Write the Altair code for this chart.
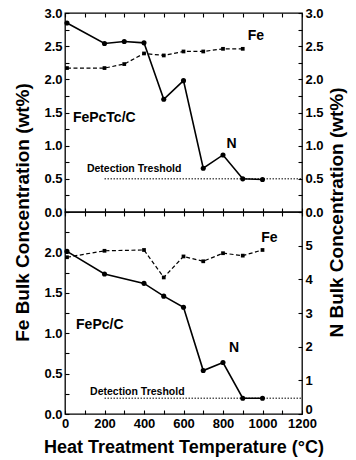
import altair as alt
import pandas as pd

# FePcTc/C catalyst: bulk Fe and N contents (wt%) vs. heat-treatment temperature (°C)
fepctc_fe_temp = [10, 200, 300, 400, 500, 600, 700, 800, 900]
fepctc_fe = [2.17, 2.17, 2.23, 2.39, 2.36, 2.42, 2.42, 2.46, 2.46]
fepctc_n_temp = [10, 200, 300, 400, 500, 600, 700, 800, 900, 1000]
fepctc_n = [2.85, 2.54, 2.57, 2.55, 1.70, 1.98, 0.66, 0.86, 0.50, 0.49]

# FePc/C catalyst
fepc_fe_temp = [10, 200, 400, 500, 600, 700, 800, 900, 1000]
fepc_fe = [1.94, 2.02, 2.03, 1.69, 1.95, 1.89, 1.99, 1.96, 2.03]
fepc_n_temp = [10, 200, 400, 500, 600, 700, 800, 900, 1000]
fepc_n = [4.83, 4.16, 3.88, 3.50, 3.17, 1.29, 1.53, 0.47, 0.47]

# N detection threshold (wt%) and the temperature range it is drawn over
threshold_fepctc = 0.5
threshold_fepc = 0.47
threshold_from, threshold_to = 200, 1200

# tick positions
x_ticks = [i * 100 for i in range(13)]
top_ticks = [i * 0.25 for i in range(13)]
bottom_fe_ticks = [i * 0.25 for i in range(11)]
bottom_n_ticks = [i * 0.5 for i in range(13)]

FONT = "Liberation Sans, Arial, sans-serif"
NARROW = "Liberation Sans Narrow, Liberation Sans, Arial, sans-serif"
TICK = 4
W = 237
H_TOP = 199
H_BOTTOM = 202


def x_axis(orient, labels=False, title=None):
    kw = dict(orient=orient, values=x_ticks, offset=-TICK, tickSize=TICK,
              domain=False, grid=False, labels=labels, title=title)
    if labels:
        kw.update(labelExpr="datum.value % 200 == 0 ? datum.label : ''", format="d",
                  labelPadding=3, labelFlush=False, labelOverlap=False)
    if title:
        kw.update(titleFont=FONT, titleFontSize=18, titleFontWeight="bold", titlePadding=8)
    return alt.Axis(**kw)


def y_axis(orient, values, test, fmt, title=None, title_x=0, title_y=0, lift_zero=False):
    kw = dict(orient=orient, values=values, offset=-TICK, tickSize=TICK, domain=False,
              grid=False, format=fmt, labelExpr=f"{test} ? datum.label : ''",
              labelPadding=3, labelOverlap=False, labelFlush=False, title=title)
    if lift_zero:
        # raise the zero label so it clears the x-axis labels below it
        kw["labelOffset"] = {"condition": {"test": "datum.value == 0", "value": -5},
                             "value": 0}
    if title:
        kw.update(titleAngle=270, titleX=title_x, titleY=title_y, titleAlign="center",
                  titleBaseline="middle", titleFont=FONT, titleFontSize=19,
                  titleFontWeight="bold")
    return alt.Axis(**kw)


def series_layer(temps, vals, xenc, yenc, dashed, notes, threshold=None):
    df = pd.DataFrame({"t": temps, "v": vals})
    base = alt.Chart(df).encode(x=xenc, y=yenc)
    if dashed:
        line = base.mark_line(color="black", strokeWidth=1.2, strokeDash=[4, 2.5])
        pts = base.mark_point(filled=True, shape="square", size=14, color="black", opacity=1)
    else:
        line = base.mark_line(color="black", strokeWidth=1.6)
        pts = base.mark_point(filled=True, shape="circle", size=26, color="black", opacity=1)
    layers = [line, pts]
    if threshold is not None:
        tdf = pd.DataFrame({"t": [threshold_from], "t2": [threshold_to], "v": [threshold]})
        layers.append(alt.Chart(tdf).mark_rule(color="black", strokeWidth=1,
                                               strokeDash=[1.5, 1.5])
                      .encode(x=xenc, x2="t2:Q", y=yenc))
    for text, t, v, size, align in notes:
        ndf = pd.DataFrame({"t": [t], "v": [v], "label": [text]})
        layers.append(alt.Chart(ndf).mark_text(font=FONT, fontSize=size, fontWeight="bold",
                                               align=align, baseline="middle", color="black")
                      .encode(x=xenc, y=yenc, text="label:N"))
    return alt.layer(*layers)


xscale = alt.Scale(domain=[0, 1200], nice=False, zero=False)

# ---- top panel: FePcTc/C ----
top_scale = alt.Scale(domain=[0, 3], nice=False, zero=False)
top_fe = series_layer(
    fepctc_fe_temp, fepctc_fe,
    alt.X("t:Q", scale=xscale, axis=x_axis("bottom")),
    alt.Y("v:Q", scale=top_scale,
          axis=y_axis("left", top_ticks, "datum.value % 0.5 == 0", ".1f",
                      "Fe Bulk Concentration (wt%)", -47, H_TOP)),
    True,
    [("Fe", 967, 2.66, 14, "center"),
     ("FePcTc/C", 40, 1.42, 14, "left")],
)
top_n = series_layer(
    fepctc_n_temp, fepctc_n,
    alt.X("t:Q", scale=xscale, axis=x_axis("top")),
    alt.Y("v:Q", scale=top_scale,
          axis=y_axis("right", top_ticks, "datum.value % 0.5 == 0", ".1f",
                      "N Bulk Concentration (wt%)", 38, H_TOP)),
    False,
    [("N", 843, 1.03, 14, "center"),
     ("Detection Treshold", 111, 0.65, 10.5, "left")],
    threshold=threshold_fepctc,
)
top = (alt.layer(top_fe, top_n)
       .resolve_scale(y="independent")
       .resolve_axis(x="independent", y="independent")
       .properties(width=W, height=H_TOP))

# ---- bottom panel: FePc/C ----
bottom_fe = series_layer(
    fepc_fe_temp, fepc_fe,
    alt.X("t:Q", scale=xscale,
          axis=x_axis("bottom", labels=True, title="Heat Treatment Temperature (°C)")),
    alt.Y("v:Q", scale=alt.Scale(domain=[0, 2.5], nice=False, zero=False),
          axis=y_axis("left", bottom_fe_ticks,
                      "datum.value % 0.5 == 0 && datum.value < 2.4", ".1f")),
    True,
    [("Fe", 1035, 2.18, 14, "center"),
     ("FePc/C", 56, 1.10, 14, "left")],
)
bottom_n = series_layer(
    fepc_n_temp, fepc_n,
    alt.X("t:Q", scale=xscale, axis=x_axis("top")),
    alt.Y("v:Q", scale=alt.Scale(domain=[0, 6], nice=False, zero=False),
          axis=y_axis("right", bottom_n_ticks,
                      "datum.value % 1 == 0 && datum.value < 5.5", "d",
                      lift_zero=True)),
    False,
    [("N", 856, 1.96, 14, "center"),
     ("Detection Treshold", 127, 0.65, 10.5, "left")],
    threshold=threshold_fepc,
)
bottom = (alt.layer(bottom_fe, bottom_n)
          .resolve_scale(y="independent")
          .resolve_axis(x="independent", y="independent")
          .properties(width=W, height=H_BOTTOM))

chart = (
    alt.vconcat(top, bottom, spacing=0, bounds="flush")
    .properties(padding={"left": 12, "top": 6, "right": 8, "bottom": 2},
                background="white")
    .configure_view(stroke="black", strokeWidth=1.3)
    .configure_axis(labelFont=NARROW, labelFontSize=13, labelFontWeight="bold",
                    labelColor="black", tickColor="black", tickWidth=1.1,
                    titleColor="black")
)

chart.save("out.html", embed_options={"renderer": "svg", "actions": False})
